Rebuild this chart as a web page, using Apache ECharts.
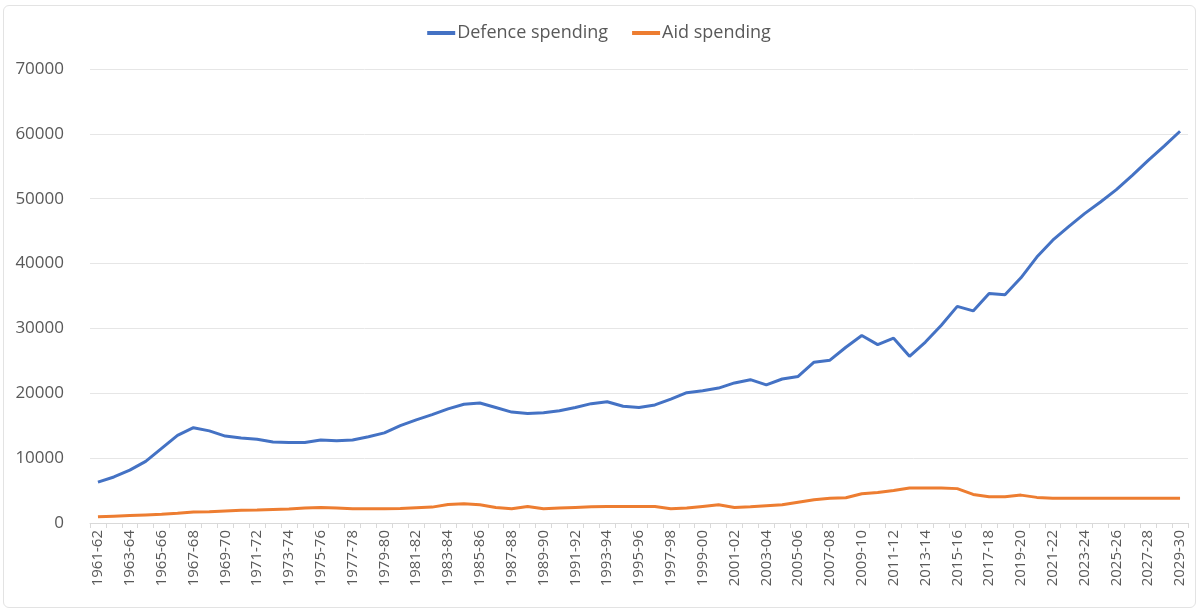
<!DOCTYPE html>
<html>
<head>
<meta charset="utf-8">
<script src="https://cdn.jsdelivr.net/npm/echarts@6/dist/echarts.min.js"></script>
<style>
    html, body { margin: 0; padding: 0; background: #fff; }
    #frame { position: absolute; left: 3px; top: 5px; width: 1191px; height: 601px; border: 1px solid #e3e3e3; border-radius: 6px; }
    #chart { position: absolute; left: 0; top: 0; width: 1198px; height: 610px; }
</style>
</head>
<body>
<div id="frame"></div>
<div id="chart"></div>
<script>
    var years = [
        '1961-62', '1962-63', '1963-64', '1964-65', '1965-66', '1966-67', '1967-68', '1968-69', '1969-70', '1970-71',
        '1971-72', '1972-73', '1973-74', '1974-75', '1975-76', '1976-77', '1977-78', '1978-79', '1979-80', '1980-81',
        '1981-82', '1982-83', '1983-84', '1984-85', '1985-86', '1986-87', '1987-88', '1988-89', '1989-90', '1990-91',
        '1991-92', '1992-93', '1993-94', '1994-95', '1995-96', '1996-97', '1997-98', '1998-99', '1999-00', '2000-01',
        '2001-02', '2002-03', '2003-04', '2004-05', '2005-06', '2006-07', '2007-08', '2008-09', '2009-10', '2010-11',
        '2011-12', '2012-13', '2013-14', '2014-15', '2015-16', '2016-17', '2017-18', '2018-19', '2019-20', '2020-21',
        '2021-22', '2022-23', '2023-24', '2024-25', '2025-26', '2026-27', '2027-28', '2028-29', '2029-30'
    ];

    var defence = [
        6300, 7100, 8150, 9500, 11500, 13500, 14700, 14200, 13400, 13100,
        12900, 12500, 12400, 12400, 12800, 12700, 12800, 13300, 13900, 15000,
        15900, 16700, 17600, 18300, 18500, 17800, 17100, 16900, 17000, 17300,
        17800, 18400, 18700, 18000, 17800, 18200, 19100, 20100, 20400, 20800,
        21600, 22100, 21300, 22200, 22600, 24800, 25100, 27100, 28900, 27500,
        28500, 25700, 27900, 30500, 33400, 32700, 35400, 35200, 37800, 41000,
        43600, 45700, 47700, 49500, 51400, 53600, 55900, 58100, 60400
    ];

    var aid = [
        950, 1050, 1150, 1250, 1350, 1500, 1700, 1750, 1850, 1950,
        2000, 2100, 2150, 2300, 2400, 2300, 2200, 2200, 2200, 2250,
        2350, 2450, 2850, 2950, 2800, 2400, 2200, 2550, 2200, 2300,
        2400, 2500, 2550, 2550, 2550, 2550, 2200, 2300, 2550, 2800,
        2400, 2500, 2650, 2800, 3200, 3600, 3800, 3900, 4500, 4700,
        5000, 5400, 5400, 5400, 5300, 4400, 4050, 4050, 4300, 3950,
        3800, 3800, 3800, 3800, 3800, 3800, 3800, 3800, 3800
    ];

    var seriesNames = ['Defence spending', 'Aid spending'];
    var colors = ['#4472C4', '#ED7D31'];

    var myChart = echarts.init(document.getElementById('chart'));
    var option = {
        animation: false,
        textStyle: { fontFamily: 'Open Sans' },
        color: colors,
        legend: {
            top: 19,
            left: 'center',
            itemWidth: 28,
            itemHeight: 4,
            itemGap: 24,
            icon: 'rect',
            textStyle: { fontSize: 18, color: '#595959', padding: [0, 0, 0, -3] },
            data: seriesNames
        },
        grid: {
            left: 90,
            right: 10,
            top: 69,
            bottom: 87
        },
        xAxis: {
            type: 'category',
            data: years,
            boundaryGap: true,
            axisLine: { lineStyle: { color: '#d9d9d9' } },
            axisTick: { show: true, interval: 0, length: 5, lineStyle: { color: '#d9d9d9' } },
            axisLabel: {
                interval: 1,
                rotate: 90,
                fontSize: 15,
                color: '#595959',
                margin: 7
            }
        },
        yAxis: {
            type: 'value',
            min: 0,
            max: 70000,
            interval: 10000,
            axisLine: { show: false },
            axisTick: { show: false },
            axisLabel: {
                fontSize: 17,
                color: '#595959',
                margin: 26,
                formatter: function (v) { return String(v); }
            },
            splitLine: { lineStyle: { color: '#e6e6e6' } }
        },
        series: [
            {
                name: seriesNames[0],
                type: 'line',
                data: defence,
                symbol: 'none',
                lineStyle: { width: 3, color: colors[0] }
            },
            {
                name: seriesNames[1],
                type: 'line',
                data: aid,
                symbol: 'none',
                lineStyle: { width: 3, color: colors[1] }
            }
        ]
    };
    myChart.setOption(option);
</script>
</body>
</html>
